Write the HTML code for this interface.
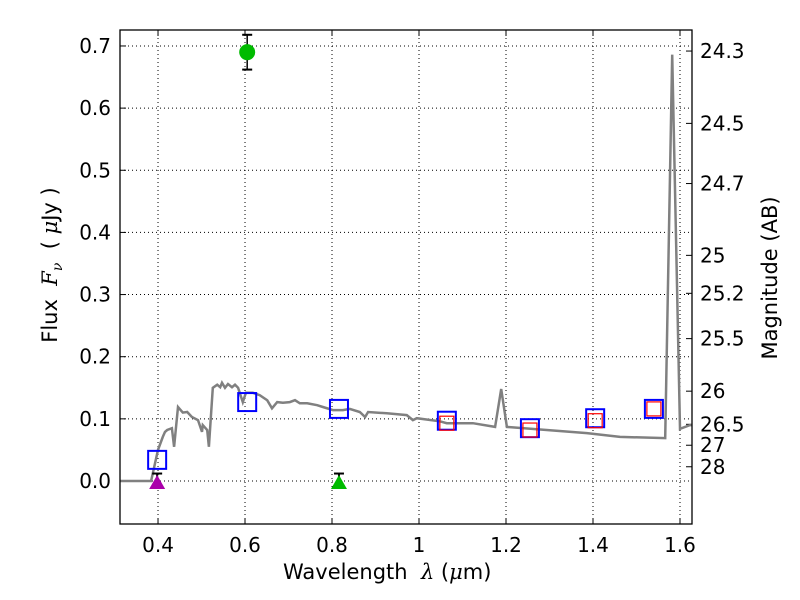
<!DOCTYPE html>
<html><head><meta charset="utf-8"><style>
body{margin:0;background:#fff;}
svg{display:block;font-family:"DejaVu Sans","Liberation Sans",sans-serif;}
</style></head><body>
<svg id="c" width="800" height="600"></svg>
<script>
const modelLam=[0.313,0.384,0.400,0.411,0.416,0.421,0.432,0.437,0.446,0.457,0.467,0.478,0.492,0.501,0.503,0.513,0.517,0.526,0.536,0.543,0.547,0.554,0.561,0.570,0.577,0.584,0.595,0.602,0.618,0.634,0.651,0.662,0.674,0.687,0.703,0.715,0.726,0.743,0.766,0.779,0.802,0.825,0.841,0.864,0.876,0.883,0.926,0.972,0.986,0.995,1.048,1.064,1.124,1.175,1.189,1.202,1.386,1.462,1.566,1.582,1.600,1.623,1.628];
const modelFlux=[0,0,0.050,0.071,0.079,0.082,0.085,0.055,0.119,0.110,0.111,0.103,0.098,0.079,0.090,0.082,0.055,0.150,0.155,0.151,0.158,0.150,0.156,0.151,0.155,0.150,0.127,0.142,0.142,0.138,0.130,0.117,0.127,0.126,0.127,0.130,0.125,0.125,0.122,0.119,0.114,0.114,0.116,0.111,0.103,0.111,0.109,0.106,0.098,0.101,0.096,0.093,0.093,0.087,0.148,0.087,0.077,0.071,0.069,0.686,0.084,0.090,0.090];
const bandLam=[0.398,0.605,0.816,1.064,1.255,1.405,1.540];
const modelBandFlux=[0.034,0.127,0.116,0.097,0.085,0.101,0.116];
const obsLam=[1.064,1.255,1.405,1.540];
const obsFlux=[0.093,0.082,0.097,0.116];
const detLam=[0.605];const detFlux=[0.690];const detErr=[0.028];
const ulLam=[0.398,0.816];const ulFlux=[0,0];const ulErr=[0.012,0.012];const ulColor=['#aa00aa','#00bb00'];
const xTicks=[0.4,0.6,0.8,1,1.2,1.4,1.6];const xTickLabels=['0.4','0.6','0.8','1','1.2','1.4','1.6'];
const yTicks=[0,0.1,0.2,0.3,0.4,0.5,0.6,0.7];const yTickLabels=['0.0','0.1','0.2','0.3','0.4','0.5','0.6','0.7'];
const magTicks=[24.3,24.5,24.7,25,25.2,25.5,26,26.5,27,28];

const L=120,R=692,T=30,B=524,X0=0.3126,X1=1.6276,Y0=-0.0692,Y1=0.7257;
const sx=v=>L+(v-X0)/(X1-X0)*(R-L), sy=v=>B-(v-Y0)/(Y1-Y0)*(B-T);
const svg=document.getElementById('c');const NS='http://www.w3.org/2000/svg';
function mk(t,a,p){const e=document.createElementNS(NS,t);for(const k in a)e.setAttribute(k,a[k]);(p||svg).appendChild(e);return e;}
const grid=mk('g',{});


xTicks.forEach((v,i)=>{const x=sx(v);
 mk('line',{x1:x,x2:x,y1:T,y2:B,stroke:'#000','stroke-dasharray':'1,3','stroke-width':1},grid);
 mk('line',{x1:x,x2:x,y1:B,y2:B-6,stroke:'#000'});mk('line',{x1:x,x2:x,y1:T,y2:T+6,stroke:'#000'});
 const t=mk('text',{x:x,y:B+28,'text-anchor':'middle','font-size':20});t.textContent=xTickLabels[i];
 
 });
yTicks.forEach((v,i)=>{const y=sy(v);
 mk('line',{x1:L,x2:R,y1:y,y2:y,stroke:'#000','stroke-dasharray':'1,3','stroke-width':1},grid);
 mk('line',{x1:L,x2:L+6,y1:y,y2:y,stroke:'#000'});
 const t=mk('text',{x:L-9,y:y+7,'text-anchor':'end','font-size':20});t.textContent=yTickLabels[i];
 
 });
magTicks.forEach(m=>{const f=Math.pow(10,-0.4*(m-23.9));const y=sy(f);
 mk('line',{x1:R,x2:R-6,y1:y,y2:y,stroke:'#000'});
 const t=mk('text',{x:R+8,y:y+7,'font-size':20});t.textContent=String(m);
 
 });
const d=modelLam.map((v,i)=>(i?'L':'M')+sx(v).toFixed(1)+','+sy(modelFlux[i]).toFixed(1)).join('');
const line=mk('path',{d:d,fill:'none',stroke:'#808080','stroke-width':2.5});


bandLam.forEach((v,i)=>{const r=mk('rect',{x:sx(v)-9,y:sy(modelBandFlux[i])-9,width:18,height:18,fill:'none',stroke:'#0000ff','stroke-width':2});
 
 });
obsLam.forEach((v,i)=>{const r=mk('rect',{x:sx(v)-7,y:sy(obsFlux[i])-7,width:14,height:14,fill:'none',stroke:'#ff0000','stroke-width':1.2});
 
 });
detLam.forEach((v,i)=>{const x=sx(v),y1=sy(detFlux[i]+detErr[i]),y2=sy(detFlux[i]-detErr[i]);
 mk('line',{x1:x,x2:x,y1:y1,y2:y2,stroke:'#000','stroke-width':1.5});
 mk('line',{x1:x-5,x2:x+5,y1:y1,y2:y1,stroke:'#000','stroke-width':2});
 mk('line',{x1:x-5,x2:x+5,y1:y2,y2:y2,stroke:'#000','stroke-width':2});
 const c=mk('circle',{cx:x,cy:sy(detFlux[i]),r:8,fill:'#00bb00'});
 
 });
ulLam.forEach((v,i)=>{const x=sx(v),y=sy(ulFlux[i]),yt=sy(ulFlux[i]+ulErr[i]);
 mk('line',{x1:x,x2:x,y1:y,y2:yt,stroke:'#000','stroke-width':2});
 mk('line',{x1:x-5,x2:x+5,y1:yt,y2:yt,stroke:'#000','stroke-width':2});
 const p=mk('polygon',{points:`${x-8},${y+8} ${x+8},${y+8} ${x},${y-6}`,fill:ulColor[i]});
 
 });
const frame=mk('rect',{x:L,y:T,width:R-L,height:B-T,fill:'none',stroke:'#000','stroke-width':1.3});


</script>
<div style="position:absolute;left:0;top:0;width:800px;height:600px;pointer-events:none;font-family:'DejaVu Sans','Liberation Sans',sans-serif;">
<div style="position:absolute;left:283px;top:560px;font-size:21px;white-space:nowrap;">Wavelength&nbsp; <i style="font-family:'DejaVu Serif',serif;">λ</i> (<i style="font-family:'DejaVu Serif',serif;">μ</i>m)</div>
<div style="position:absolute;left:52px;top:265px;font-size:21px;white-space:nowrap;transform:translate(-50%,-50%) rotate(-90deg);">Flux&nbsp; <i style="font-family:'DejaVu Serif',serif;">F<sub style="font-size:14px">ν</sub></i>&nbsp; ( <i style="font-family:'DejaVu Serif',serif;">μ</i>Jy )</div>
<div style="position:absolute;left:770px;top:278px;font-size:21px;white-space:nowrap;transform:translate(-50%,-50%) rotate(-90deg);">Magnitude (AB)</div>
</div>
</body></html>
